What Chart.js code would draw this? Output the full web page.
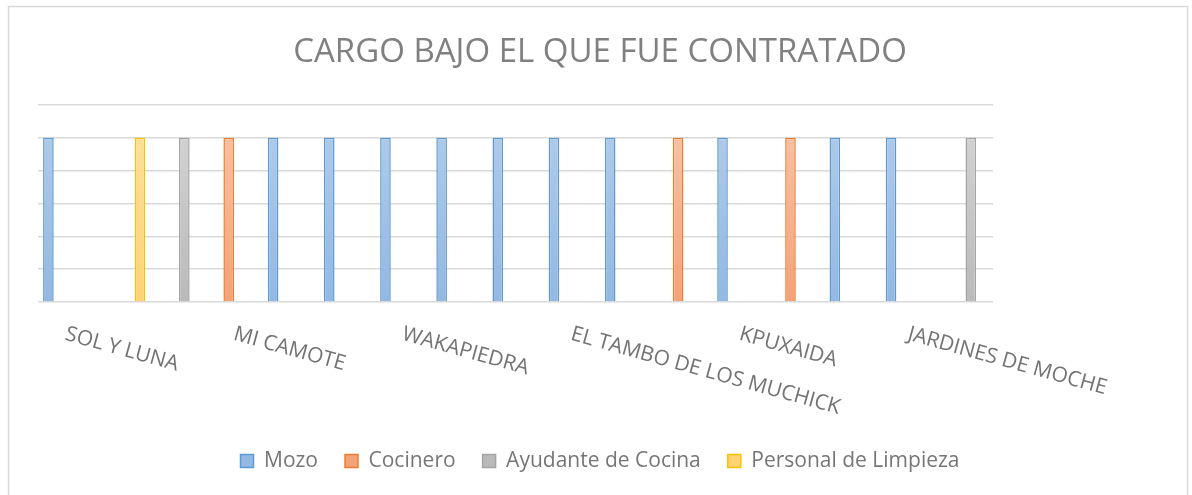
<!DOCTYPE html>
<html><head><meta charset="utf-8">
<script src="https://cdn.jsdelivr.net/npm/chart.js@4.4.1/dist/chart.umd.min.js"></script>
<style>html,body{margin:0;padding:0;background:#fff;overflow:hidden}</style>
</head><body>
<canvas id="c" width="1192" height="495" style="display:block;width:1192px;height:495px"></canvas>
<script>
// ---- data ----
const chartTitle = 'CARGO BAJO EL QUE FUE CONTRATADO';
const categories = ['SOL Y LUNA','','','MI CAMOTE','','','WAKAPIEDRA','','','EL TAMBO DE LOS MUCHICK','','','KPUXAIDA','','','JARDINES DE MOCHE',''];
const seriesNames = ['Mozo','Cocinero','Ayudante de Cocina','Personal de Limpieza'];
const mozo     = [1,null,null,null,1,1,1,1,1,1,1,null,1,null,1,1,null];
const cocinero = [null,null,null,1,null,null,null,null,null,null,null,1,null,1,null,null,null];
const ayudante = [null,null,1,null,null,null,null,null,null,null,null,null,null,null,null,null,1];
const limpieza = [null,1,null,null,null,null,null,null,null,null,null,null,null,null,null,null,null];
const yTicks = [0,0.2,0.4,0.6,0.8,1,1.2];

// ---- styles ----
const fills = [['#b2cdeb','#93b8e2'],['#f9c6a8','#f4a278'],['#d6d6d6','#bababa'],['#ffe0a0','#ffd374']];
const borders = ['#5b9bd5','#ed7d31','#a5a5a5','#ffc000'];
const FONT = '"Open Sans", "DejaVu Sans", sans-serif';

function grad(i){
  return (ctx) => {
    const ca = ctx.chart.chartArea;
    if(!ca) return fills[i][1];
    const g = ctx.chart.ctx.createLinearGradient(0, ca.top, 0, ca.bottom);
    g.addColorStop(0, fills[i][0]);
    g.addColorStop(1, fills[i][1]);
    return g;
  };
}

const frame = {
  id:'frame',
  beforeDraw(chart){
    const c = chart.ctx;
    c.save();
    c.fillStyle = '#fff';
    c.fillRect(0,0,chart.width,chart.height);
    c.strokeStyle = '#d9d9d9';
    c.lineWidth = 1.5;
    c.strokeRect(8.5, 6.5, 1179, 520);
    c.restore();
  }
};

const rotatedLabels = {
  id:'rotatedLabels',
  afterDraw(chart){
    const xs = chart.scales.x, c = chart.ctx;
    const size = 21;
    c.save();
    c.font = size + 'px ' + FONT;
    c.fillStyle = '#737373';
    c.textAlign = 'left';
    c.textBaseline = 'alphabetic';
    categories.forEach((lab, i) => {
      if(!lab) return;
      const x = xs.getPixelForValue(i);
      c.save();
      c.translate(x + 2, chart.chartArea.bottom + 23);
      c.rotate(15.5 * Math.PI / 180);
      c.fillText(lab, 0, size * 0.72);
      c.restore();
    });
    c.restore();
  }
};

const datasets = [mozo, cocinero, ayudante, limpieza].map((d, i) => ({
  label: seriesNames[i],
  data: d,
  backgroundColor: grad(i),
  borderColor: borders[i],
  borderWidth: 1.5,
  categoryPercentage: 0.84,
  barPercentage: 0.9
}));

new Chart(document.getElementById('c'), {
  type: 'bar',
  data: { labels: categories, datasets },
  options: {
    responsive: false,
    animation: false,
    devicePixelRatio: 1,
    layout: { padding: { left: 16, right: 8, top: 0, bottom: 13.5 } },
    plugins: {
      tooltip: { enabled: false },
      title: {
        display: true,
        text: chartTitle,
        color: '#808080',
        font: { family: FONT, size: 33, weight: 'normal' },
        padding: { top: 32.5, bottom: 32.9 }
      },
      legend: {
        position: 'bottom',
        labels: {
          color: '#767676',
          font: { family: FONT, size: 21 },
          boxWidth: 13,
          boxHeight: 13,
          padding: 27
        }
      }
    },
    scales: {
      x: {
        grid: { display: false },
        border: { display: false },
        ticks: { display: false },
        afterFit: (s) => { s.height = 121.5; }
      },
      y: {
        min: 0, max: 1.2,
        afterBuildTicks: (s) => { s.ticks = yTicks.map(v => ({ value: v })); },
        grid: { color: '#d9d9d9', lineWidth: 1.5, drawTicks: false },
        border: { display: false },
        ticks: { display: false },
        afterFit: (s) => { s.width = 22; }
      },
      y2: {
        position: 'right',
        display: true,
        grid: { display: false },
        border: { display: false },
        ticks: { display: false },
        afterFit: (s) => { s.width = 191; }
      }
    }
  },
  plugins: [frame, rotatedLabels]
});
</script>
</body></html>
